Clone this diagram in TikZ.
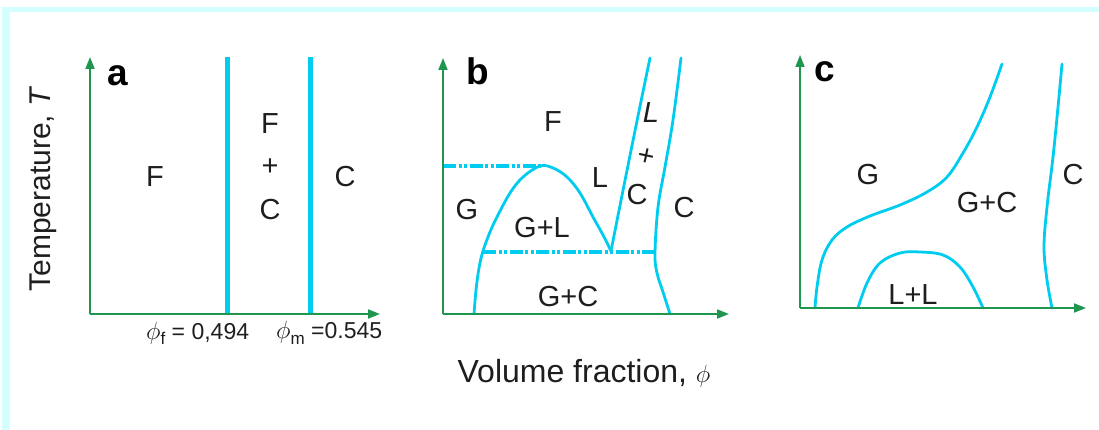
\documentclass[tikz,border=0pt]{standalone}
\usepackage{fontspec}
\setmainfont{Liberation Sans}
\usetikzlibrary{arrows.meta}
\definecolor{cyanl}{RGB}{0,204,240}
\definecolor{axgreen}{RGB}{30,150,80}
\definecolor{bordc}{RGB}{212,255,255}
\definecolor{txt}{RGB}{30,30,30}
\tikzset{
  axis/.style={draw=axgreen, line width=1.8pt, -{Triangle[length=12pt,width=9pt]}},
  phase/.style={draw=cyanl, line width=2.8pt, line cap=round},
  wall/.style={draw=cyanl, line width=5pt},
  tie/.style={draw=cyanl, line width=4pt, dash pattern=on 13pt off 2.5pt on 3pt off 2.5pt on 3pt off 2.5pt},
  lbl/.style={font=\fontsize{29}{29}\selectfont, text=txt, inner sep=0pt},
  small/.style={font=\fontsize{23}{23}\selectfont, text=txt, inner sep=0pt},
  panel/.style={font=\fontsize{37}{37}\selectfont\bfseries, text=black, inner sep=0pt},
}
\begin{document}
\begin{tikzpicture}[x=1pt,y=-1pt]
\useasboundingbox (0,0) rectangle (1099,430);
% border
\fill[bordc] (2,7) rectangle (1099,12);
\fill[bordc] (2,7) rectangle (10,430);

% ---------- panel a ----------
\coordinate (oa) at (90,314);
\coordinate (ya) at (90,57);
\coordinate (xa) at (380,314);
\coordinate (fa1) at (227,57);
\coordinate (fa2) at (227,314);
\coordinate (ma1) at (310,57);
\coordinate (ma2) at (310,314);
\draw[wall] (fa1) -- (fa2);
\draw[wall] (ma1) -- (ma2);
\draw[axis] (oa) -- (ya);
\draw[axis] (oa) -- (xa);
\node[panel] (la) at (118,76) {a};
\node[lbl] (aF) at (155,177) {F};
\node[lbl] (aF2) at (270,124) {F};
\node[lbl] (aP) at (270,167) {+};
\node[lbl] (aC2) at (270,210) {C};
\node[lbl] (aC) at (345,177) {C};
\node[lbl, rotate=90, font=\fontsize{30}{30}\selectfont] (tT) at (43,189) {Temperature, \textit{T}};
\node[small, anchor=west] (pf) at (146,333) {{\fontsize{26}{26}\selectfont$\phi$}\raisebox{-5pt}{\fontsize{17}{17}\selectfont f} = 0,494};
\node[small, anchor=west] (pm) at (276,333) {{\fontsize{26}{26}\selectfont$\phi$}\raisebox{-6pt}{\fontsize{17}{17}\selectfont m} =0.545};

% ---------- panel b ----------
\coordinate (ob) at (443,314);
\coordinate (yb) at (443,58);
\coordinate (xb) at (729,314);
\coordinate (t1a) at (443,166);
\coordinate (t1b) at (542,166);
\coordinate (t2a) at (483,252);
\coordinate (t2b) at (654,252);
\draw[tie] (t1a) -- (t1b);
\draw[tie] (t2a) -- (t2b);
\draw[phase] plot[smooth, tension=0.6] coordinates {(474,314) (476,290) (479,268) (483,251) (490,232) (497,217) (510,193) (523,177) (540,166) (553,168) (567,177) (580,193) (593,217) (603,235) (611,251)};
\draw[phase] (611,251) .. controls (622,195) and (638,115) .. (650,58);
\draw[phase] plot[smooth, tension=0.6] coordinates {(681,58) (673,120) (665,167) (658,207) (655,253) (657,273) (663,292) (670,314)};
\draw[axis] (ob) -- (yb);
\draw[axis] (ob) -- (xb);
\node[panel] (lb) at (478,71) {b};
\node[lbl] (bF) at (553,122) {F};
\node[lbl] (bL) at (600,178) {L};
\node[lbl] (bG) at (467,210) {G};
\node[lbl] (bGL) at (542,228) {G+L};
\node[lbl] (bGC) at (568,297) {G+C};
\node[lbl] (bC) at (684,208) {C};
\node[lbl] (bLi) at (651,113) {\textit{L}};
\node[lbl, rotate=-12] (bP) at (646,157) {+};
\node[lbl] (bC2) at (637,195) {C};
\node[lbl, font=\fontsize{32}{32}\selectfont] (vf) at (584,373) {Volume fraction, {\fontsize{36}{36}\selectfont$\phi$}};

% ---------- panel c ----------
\coordinate (oc) at (800,308);
\coordinate (yc) at (800,55);
\coordinate (xc) at (1086,308);
\draw[phase] plot[smooth, tension=0.6] coordinates {(815,308) (817,287) (822,260) (832,240) (847,227) (870,216) (900,205) (927,192) (947,177) (963,153) (977,127) (990,97) (1002,64)};
\draw[phase] plot[smooth, tension=0.6] coordinates {(1062,64) (1058,107) (1053,157) (1047,207) (1044,247) (1047,280) (1052,308)};
\draw[phase] plot[smooth, tension=0.6] coordinates {(858,308) (867,283) (880,263) (900,253) (920,252) (943,255) (960,267) (973,287) (983,308)};
\draw[axis] (oc) -- (yc);
\draw[axis] (oc) -- (xc);
\node[panel] (lc) at (825,72) {c};
\node[lbl] (cG) at (868,175) {G};
\node[lbl] (cGC) at (987,203) {G+C};
\node[lbl] (cC) at (1073,175) {C};
\node[lbl] (cLL) at (913,295) {L+L};
\end{tikzpicture}
\end{document}
